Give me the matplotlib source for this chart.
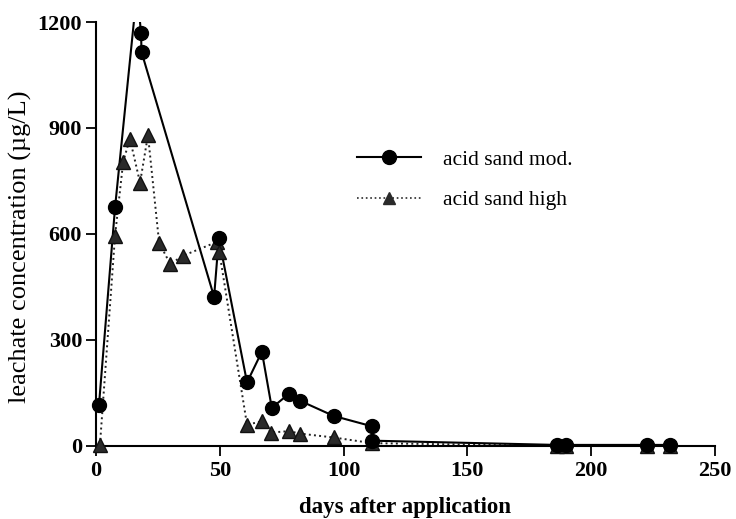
import numpy as np
import matplotlib
matplotlib.use('Agg')
import matplotlib.pyplot as plt

matplotlib.rc('font', family='Liberation Serif')

# acid sand, moderate rate (circles); the day-16 value runs off the top of the axis
mod_days = np.array([1.2, 7.7, 16.6, 18.2, 18.4, 47.7, 49.6, 61, 67, 71, 78, 82.4, 96, 111.3, 111.6, 186, 190, 222.5, 232])
mod_conc = np.array([115, 675, 1290, 1168, 1115, 422, 588, 180, 267, 108, 148, 128, 85, 56, 15, 3, 3, 3, 3])

# acid sand, high rate (triangles)
high_days = np.array([1.6, 7.7, 11, 13.7, 17.8, 21, 25.5, 30, 35, 49, 49.8, 61, 67, 70.7, 78, 82.4, 96, 111.5, 186, 190, 222.5, 232])
high_conc = np.array([3, 595, 805, 870, 745, 880, 575, 515, 538, 578, 550, 60, 70, 38, 42, 35, 24, 8, 0, 0, 0, 0])

xticks = [0, 50, 100, 150, 200, 250]
yticks = [0, 300, 600, 900, 1200]

fig = plt.figure(figsize=(7.36, 5.19), dpi=100)
ax = fig.add_axes([0.1304, 0.1407, 0.8411, 0.8169])

# lines clipped at the axis box, markers drawn unclipped so the first ones sit over the spine
ax.plot(mod_days, mod_conc, '-', color='black', lw=1.5, zorder=3)
ax.plot(high_days, high_conc, ':', color='#222222', lw=1.4, zorder=2)
vis = mod_conc <= 1200
ax.plot(mod_days[vis], mod_conc[vis], 'o', color='black', ms=10, clip_on=False, zorder=4)
ax.plot(high_days, high_conc, '^', color='#2a2a2a', mec='#111111', ms=10, clip_on=False, zorder=3)

# legend proxies
ax.plot([], [], '-o', color='black', lw=1.5, ms=10, label='acid sand mod.')
ax.plot([], [], ':^', color='#2a2a2a', lw=1.2, ms=8, label='acid sand high')
h, l = ax.get_legend_handles_labels()
ax.legend(h[-2:], l[-2:], loc='upper left', bbox_to_anchor=(0.39, 0.745), frameon=False,
          fontsize=15.5, handlelength=3.0, handletextpad=1.0, labelspacing=0.95)

ax.set_xlim(0, 250)
ax.set_ylim(0, 1200)
ax.set_xticks(xticks)
ax.set_yticks(yticks)
for s in ['top', 'right']:
    ax.spines[s].set_visible(False)
for s in ['left', 'bottom']:
    ax.spines[s].set_linewidth(1.5)
ax.tick_params(direction='out', length=7, width=1.3, labelsize=16)
ax.tick_params(axis='y', pad=3)
for t in ax.get_xticklabels() + ax.get_yticklabels():
    t.set_fontweight('bold')

ax.set_xlabel('days after application', fontsize=16.5, fontweight='bold', labelpad=12)
ax.set_ylabel('leachate concentration (\u00b5g/L)', fontsize=19)
ax.yaxis.set_label_coords(-0.104, 0.47)

fig.savefig('out.png', dpi=100)
